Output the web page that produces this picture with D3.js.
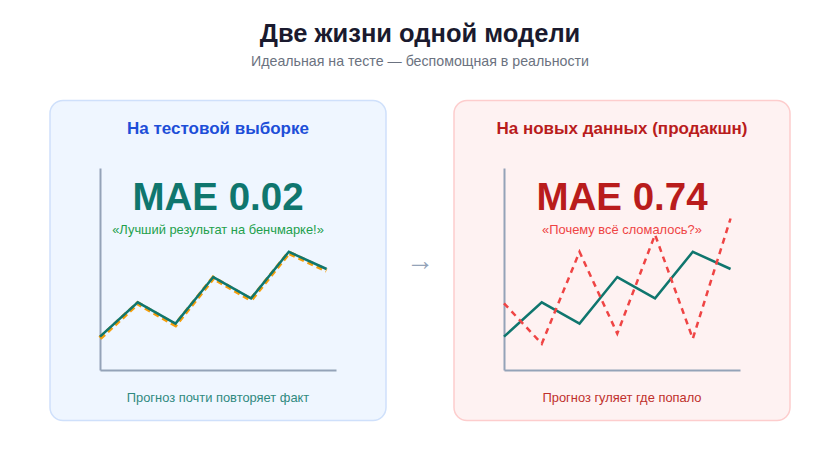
<!DOCTYPE html>
<html>
<head>
<meta charset="utf-8">
<script src="https://cdn.jsdelivr.net/npm/d3@7"></script>
<style>
  body { margin: 0; background: #ffffff; }
  svg { display: block; font-family: "Liberation Sans", Arial, sans-serif; }
</style>
</head>
<body>
<div id="chart"></div>
<script>
// данные
const steps = [0, 1, 2, 3, 4, 5, 6];
const actual = [16.5, 33.5, 23, 46, 35.5, 58.5, 50];
const forecastTest = [15.8, 33, 22.3, 45.6, 34.8, 58, 49.3];
const forecastProd = [33, 13, 58.5, 18, 67, 15.5, 75];

const panels = [
  {
    title: "На тестовой выборке", metric: "MAE 0.02",
    quote: "«Лучший результат на бенчмарке!»", caption: "Прогноз почти повторяет факт",
    forecast: forecastTest, forecastOnTop: false,
    bg: "#eff6ff", border: "#cfe0fb", titleColor: "#1d4ed8", metricColor: "#0f766e",
    quoteColor: "#22a04b", captionColor: "#2f8a80",
    fColor: "#f59e0b", fWidth: 4.4, fDash: "6,4"
  },
  {
    title: "На новых данных (продакшн)", metric: "MAE 0.74",
    quote: "«Почему всё сломалось?»", caption: "Прогноз гуляет где попало",
    forecast: forecastProd, forecastOnTop: true,
    bg: "#fef2f2", border: "#fdcdcd", titleColor: "#b91c1c", metricColor: "#b91c1c",
    quoteColor: "#ef4444", captionColor: "#c0302c",
    fColor: "#ef4444", fWidth: 2.5, fDash: "6,5"
  }
];

const W = 840, H = 472;
const svg = d3.select("#chart").append("svg")
  .attr("width", W).attr("height", H);

svg.append("text")
  .attr("x", W / 2).attr("y", 42)
  .attr("text-anchor", "middle")
  .attr("font-size", 25.5).attr("font-weight", "bold")
  .attr("fill", "#1a1a2e")
  .text("Две жизни одной модели");

svg.append("text")
  .attr("x", W / 2).attr("y", 66)
  .attr("text-anchor", "middle")
  .attr("font-size", 14.2)
  .attr("fill", "#6b7280")
  .text("Идеальная на тесте — беспомощная в реальности");

svg.append("text")
  .attr("x", 420).attr("y", 270)
  .attr("text-anchor", "middle")
  .attr("font-size", 28)
  .attr("fill", "#94a3b8")
  .text("→");

const pw = 336, ph = 320;
const offsets = [50, 454];

panels.forEach((p, i) => {
  const g = svg.append("g").attr("transform", `translate(${offsets[i]},100.5)`);

  g.append("rect")
    .attr("width", pw).attr("height", ph)
    .attr("rx", 13)
    .attr("fill", p.bg)
    .attr("stroke", p.border).attr("stroke-width", 1.5);

  g.append("text")
    .attr("x", pw / 2).attr("y", 33)
    .attr("text-anchor", "middle")
    .attr("font-size", 17).attr("font-weight", "bold")
    .attr("fill", p.titleColor)
    .text(p.title);

  // шкалы
  const x = d3.scaleLinear().domain([0, 6.25]).range([50, 286]);
  const y = d3.scaleLinear().domain([0, 100]).range([269.5, 67.5]);

  const axisX = g.append("g")
    .attr("transform", `translate(0,${y(0)})`)
    .call(d3.axisBottom(x).ticks(0).tickSizeOuter(0));
  const axisY = g.append("g")
    .attr("transform", `translate(${x(0)},0)`)
    .call(d3.axisLeft(y).ticks(0).tickSizeOuter(0));
  [axisX, axisY].forEach(a => a.select(".domain")
    .attr("stroke", "#94a3b8").attr("stroke-width", 2));

  g.append("text")
    .attr("x", pw / 2).attr("y", 109)
    .attr("text-anchor", "middle")
    .attr("font-size", 38.5).attr("font-weight", "bold")
    .attr("fill", p.metricColor)
    .text(p.metric);

  g.append("text")
    .attr("x", pw / 2).attr("y", 133)
    .attr("text-anchor", "middle")
    .attr("font-size", 12.9)
    .attr("fill", p.quoteColor)
    .text(p.quote);

  const line = d3.line().x((d, j) => x(steps[j])).y(d => y(d));

  const drawActual = () => g.append("path")
    .datum(actual)
    .attr("d", line)
    .attr("fill", "none")
    .attr("stroke", "#0f766e").attr("stroke-width", 2.5);

  const drawForecast = () => g.append("path")
    .datum(p.forecast)
    .attr("d", line)
    .attr("fill", "none")
    .attr("stroke", p.fColor).attr("stroke-width", p.fWidth)
    .attr("stroke-dasharray", p.fDash);

  if (p.forecastOnTop) { drawActual(); drawForecast(); }
  else { drawForecast(); drawActual(); }

  g.append("text")
    .attr("x", pw / 2).attr("y", 301)
    .attr("text-anchor", "middle")
    .attr("font-size", 12.9)
    .attr("fill", p.captionColor)
    .text(p.caption);
});
</script>
</body>
</html>
